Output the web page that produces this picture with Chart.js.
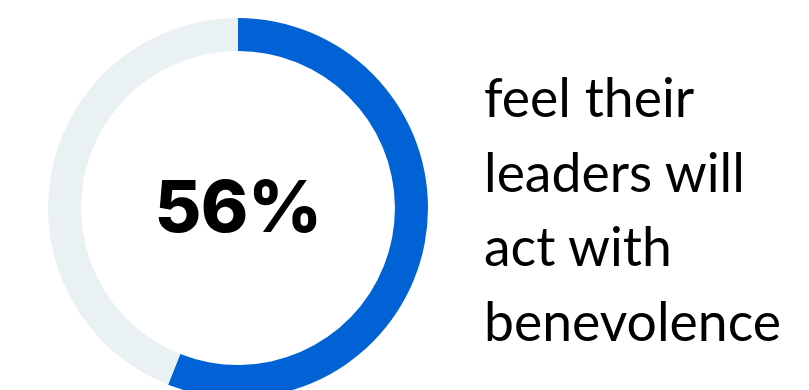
<!DOCTYPE html>
<html>
<head>
<meta charset="utf-8">
<script src="https://cdn.jsdelivr.net/npm/chart.js@4"></script>
<style>
  html, body { margin: 0; padding: 0; background: #fff; width: 809px; height: 390px; overflow: hidden; }
  #ring { position: absolute; left: 48px; top: 18px; }
  #caption {
    position: absolute; left: 484px; top: 59px;
    font-family: Lato, "Open Sans", sans-serif; font-size: 53.5px; line-height: 74.5px;
    color: #000; white-space: nowrap;
  }
</style>
</head>
<body>
<canvas id="ring" width="380" height="380"></canvas>
<div id="caption">feel their<br>leaders will<br>act with<br>benevolence</div>
<script>
const labels = ['Yes', 'Other'];
const values = [56, 44];
const colors = ['#0062d4', '#eaf1f3'];
const centerText = '56%';

// big percentage in the hole of the ring
const centerLabel = {
  id: 'centerLabel',
  afterDraw(chart) {
    const ctx = chart.ctx;
    const arc = chart.getDatasetMeta(0).data[0];
    ctx.save();
    ctx.font = '800 72px Inter, "Open Sans", sans-serif';
    ctx.fillStyle = '#000';
    ctx.textAlign = 'center';
    ctx.textBaseline = 'alphabetic';
    if ('letterSpacing' in ctx) ctx.letterSpacing = '-0.5px';
    ctx.fillText(centerText, arc.x, arc.y + 24);
    ctx.restore();
  }
};

new Chart(document.getElementById('ring'), {
  type: 'doughnut',
  data: {
    labels: labels,
    datasets: [{
      data: values,
      backgroundColor: colors,
      borderWidth: 0,
    }]
  },
  options: {
    responsive: false,
    animation: false,
    cutout: '82.6%',
    layout: { padding: 0 },
    plugins: {
      legend: { display: false },
      tooltip: { enabled: false }
    }
  },
  plugins: [centerLabel]
});
</script>
</body>
</html>
